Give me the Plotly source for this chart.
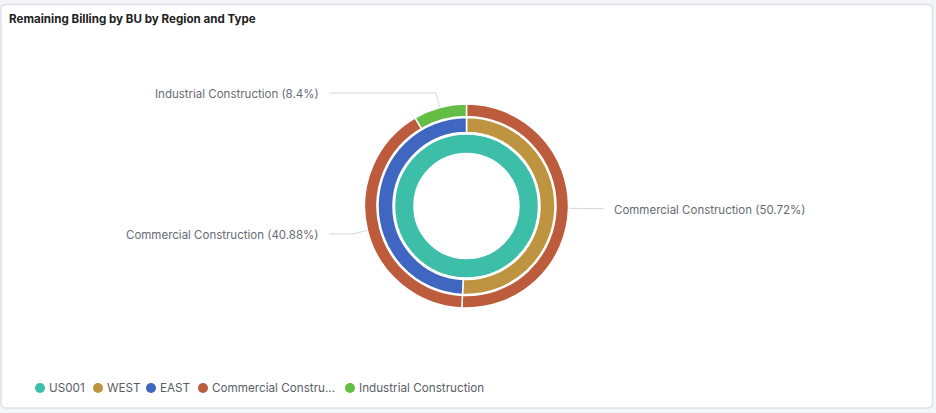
import math
import plotly.graph_objects as go

# ring data (inner -> outer)
bu_labels = ["US001"]
bu_values = [100.0]

region_labels = ["WEST", "EAST"]
region_values = [50.72, 49.28]

type_labels = ["Commercial Construction", "Commercial Construction", "Industrial Construction"]
type_values = [50.72, 40.88, 8.4]

legend_names = ["US001", "WEST", "EAST", "Commercial Constru...", "Industrial Construction"]
legend_colors = ["#3dbea9", "#bf9440", "#3f66c1", "#bd5b3d", "#64bd45"]

W, H = 936, 413
cx, cy = 466.5, 206

fig = go.Figure()


def ring(values, colors, r_out, r_in, ids):
    fig.add_trace(go.Pie(
        values=values,
        labels=ids,
        sort=False,
        direction="clockwise",
        rotation=0,
        hole=r_in / r_out,
        textinfo="none",
        showlegend=False,
        marker=dict(colors=colors, line=dict(color="white", width=1.5)),
        domain=dict(x=[(cx - r_out) / W, (cx + r_out) / W],
                    y=[1 - (cy + r_out) / H, 1 - (cy - r_out) / H]),
    ))


ring(bu_values, [legend_colors[0]], 72, 52.5, bu_labels)
ring(region_values, [legend_colors[1], legend_colors[2]], 88.5, 73.5, region_labels)
ring(type_values, [legend_colors[3], legend_colors[3], legend_colors[4]], 102, 89.5,
     ["CC-WEST", "CC-EAST", "IC-EAST"])

# leader lines and outside labels for the outer ring
total = sum(type_values)
start = 0.0
r_edge, r_elbow = 102, 117
for lab, v in zip(type_labels, type_values):
    mid = (start + v / 2) / total * 2 * math.pi
    start += v
    sx, sy = math.sin(mid), -math.cos(mid)
    px, py = cx + r_edge * sx, cy + r_edge * sy
    ex, ey = cx + r_elbow * sx, cy + r_elbow * sy
    if sx >= 0:
        hx = max(ex, cx + 137)
        tx, anchor = hx + 8, "left"
    else:
        hx = cx - 137
        tx, anchor = hx - 9, "right"
    fig.add_trace(go.Scatter(
        x=[px, ex, hx], y=[py, ey, ey], mode="lines",
        line=dict(color="#d3d6db", width=1), showlegend=False, hoverinfo="skip",
    ))
    fig.add_annotation(
        x=tx, y=ey + 1, xref="x", yref="y", showarrow=False, xanchor=anchor,
        text=f"{lab} ({v:g}%)", font=dict(family="Inter", size=11.5, color="#666b73"),
    )

# legend row (circle markers + names)
leg_x = [40, 98, 151, 203, 350]
leg_y = 388
fig.add_trace(go.Scatter(
    x=leg_x, y=[leg_y] * len(leg_x), mode="markers",
    marker=dict(color=legend_colors, size=10, symbol="circle"),
    showlegend=False, hoverinfo="skip",
))
for lx, name in zip(leg_x, legend_names):
    fig.add_annotation(
        x=lx + 7, y=leg_y, xref="x", yref="y", showarrow=False, xanchor="left",
        text=name, font=dict(family="Inter", size=11.7, color="#595e66"),
    )

fig.add_annotation(
    x=7, y=19, xref="x", yref="y", showarrow=False, xanchor="left",
    text="<b>Remaining Billing by BU by Region and Type</b>",
    font=dict(family="Inter", size=11.6, color="#222222"),
)

# card border
r = 5
x0, y0, x1, y1 = 1, 4.5, 932.5, 408
fig.add_shape(
    type="path", xref="x", yref="y", layer="below",
    path=(f"M {x0 + r} {y0} L {x1 - r} {y0} Q {x1} {y0} {x1} {y0 + r} "
          f"L {x1} {y1 - r} Q {x1} {y1} {x1 - r} {y1} L {x0 + r} {y1} "
          f"Q {x0} {y1} {x0} {y1 - r} L {x0} {y0 + r} Q {x0} {y0} {x0 + r} {y0} Z"),
    line=dict(color="#dde1e8", width=1.5), fillcolor="white",
)

fig.update_layout(
    width=W, height=H,
    margin=dict(l=0, r=0, t=0, b=0),
    paper_bgcolor="#f4f5f7",
    plot_bgcolor="rgba(0,0,0,0)",
    xaxis=dict(range=[0, W], visible=False, fixedrange=True),
    yaxis=dict(range=[H, 0], visible=False, fixedrange=True),
    showlegend=False,
    font=dict(family="Inter"),
)

fig.write_html("out.html", config={"displayModeBar": False},
               post_script="document.body.style.margin='0';")
